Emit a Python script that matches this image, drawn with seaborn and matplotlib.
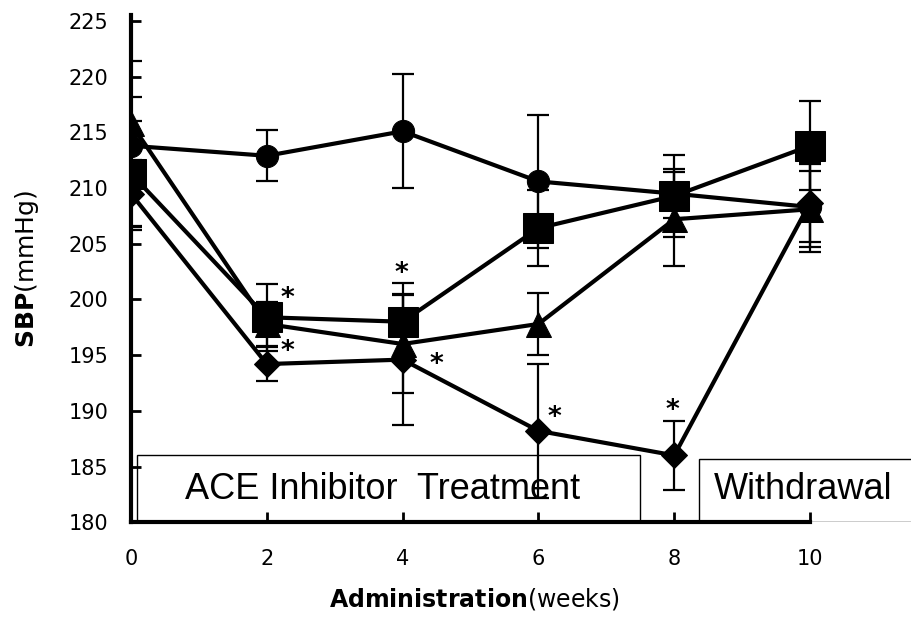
import numpy as np
import pandas as pd
import seaborn as sns
import matplotlib.pyplot as plt
from matplotlib.patches import Rectangle

weeks = [0, 2, 4, 6, 8, 10]

circle = [213.8, 212.9, 215.1, 210.6, 209.5, 208.3]
circle_err = [7.6, 2.3, 5.1, 6.0, 2.2, 4.0]
square = [211.3, 198.4, 198.0, 206.4, 209.3, 213.8]
square_err = [4.7, 3.0, 3.5, 3.4, 3.7, 4.0]
triangle = [215.8, 197.8, 196.0, 197.8, 207.2, 208.1]
triangle_err = [2.4, 2.0, 4.4, 2.8, 4.2, 3.4]
diamond = [209.5, 194.2, 194.6, 188.2, 186.0, 208.7]
diamond_err = [3.0, 1.5, 5.9, 6.0, 3.1, 3.5]

# significance marks (x, y)
star_x = [2.3, 2.3, 3.98, 4.5, 6.24, 7.97]
star_y = [200.0, 195.3, 202.3, 194.1, 189.4, 190.0]

yticks = [180, 185, 190, 195, 200, 205, 210, 215, 220, 225]
xticks = [0, 2, 4, 6, 8, 10]

sns.set_style("white")
plt.rcParams['font.family'] = ['DejaVu Sans']
plt.rcParams['text.color'] = 'black'
plt.rcParams['axes.labelcolor'] = 'black'
plt.rcParams['axes.edgecolor'] = 'black'
plt.rcParams['xtick.color'] = 'black'
plt.rcParams['ytick.color'] = 'black'

fig = plt.figure(figsize=(9.12, 6.18), dpi=100)
ax = fig.add_axes([0.1436, 0.155, 0.8564, 0.82])

series = [
    ('circle', circle, circle_err, 'o', 16),
    ('triangle', triangle, triangle_err, '^', 18),
    ('diamond', diamond, diamond_err, 'D', 13),
    ('square', square, square_err, 's', 22),
]

for name, vals, errs, mk, ms in series:
    df = pd.DataFrame({'week': weeks, 'sbp': vals})
    ax.errorbar(weeks, vals, yerr=errs, fmt='none', ecolor='black',
                elinewidth=1.6, capsize=8, capthick=1.6, zorder=2)
    sns.lineplot(data=df, x='week', y='sbp', ax=ax, color='black',
                 linewidth=3, marker=mk, markersize=ms,
                 markeredgecolor='black', markerfacecolor='black', zorder=3)

for sx, sy in zip(star_x, star_y):
    ax.text(sx, sy, '*', ha='center', va='center', fontsize=19,
            fontweight='bold', color='black')

ax.add_patch(Rectangle((0.09, 180), 7.41, 6.0, fill=False, edgecolor='black',
                       linewidth=1, zorder=1))
ax.add_patch(Rectangle((8.37, 180), 4.0, 5.7, fill=False, edgecolor='black',
                       linewidth=1, zorder=1))
ax.text(3.71, 182.9, 'ACE Inhibitor  Treatment', ha='center', va='center',
        fontsize=26, family=['Liberation Sans', 'DejaVu Sans'])
ax.text(9.9, 182.9, 'Withdrawal', ha='center', va='center',
        fontsize=26, family=['Liberation Sans', 'DejaVu Sans'])

ax.set_xlim(0, 11.5)
ax.set_ylim(180, 225.5)
ax.set_xticks(xticks)
ax.set_yticks(yticks)
ax.tick_params(axis='both', direction='in', length=7, width=2, labelsize=15,
               left=True, bottom=True)
ax.tick_params(axis='x', pad=19)
ax.tick_params(axis='y', pad=16)

for side in ['top', 'right']:
    ax.spines[side].set_visible(False)
ax.spines['left'].set_linewidth(3)
ax.spines['bottom'].set_linewidth(3)
ax.spines['bottom'].set_bounds(0, 10)

ax.set_xlabel(r'$\bf{Administration}$(weeks)', fontsize=17)
ax.xaxis.set_label_coords(0.44, -0.125)
ax.set_ylabel(r'$\bf{SBP}$(mmHg)', fontsize=18)
ax.yaxis.set_label_coords(-0.115, 0.5)

fig.savefig('out.png', dpi=100)
